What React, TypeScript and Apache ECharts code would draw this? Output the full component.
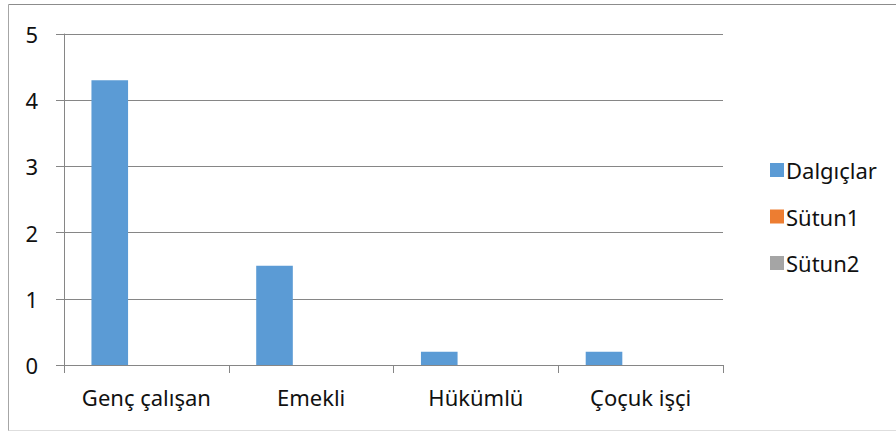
import React, { useEffect, useRef } from "react";
import * as echarts from "echarts";

const categories = ["Genç çalışan", "Emekli", "Hükümlü", "Çoçuk işçi"];
const dalgiclar = [4.3, 1.5, 0.2, 0.2];
const sutun1 = [0, 0, 0, 0];
const sutun2 = [0, 0, 0, 0];
const seriesNames = ["Dalgıçlar", "Sütun1", "Sütun2"];
const colors = ["#5B9BD5", "#ED7D31", "#A5A5A5"];

const FONT = "'Noto Sans', 'Open Sans', sans-serif";

export default function App() {
  const ref = useRef<HTMLDivElement>(null);
  useEffect(() => {
    if (!ref.current) return;
    const chart = echarts.init(ref.current, null, { renderer: "svg" });
    chart.setOption({
      animation: false,
      backgroundColor: "#ffffff",
      textStyle: { fontFamily: FONT },
      grid: { left: 64, top: 34, width: 659, height: 331, containLabel: false },
      legend: {
        orient: "vertical",
        left: 765,
        top: 154,
        itemWidth: 14,
        itemHeight: 14,
        itemGap: 24.5,
        icon: "rect",
        textStyle: { fontSize: 22, color: "#111", fontFamily: FONT, padding: [0, 0, 0, -3] },
        data: seriesNames,
      },
      xAxis: {
        type: "category",
        data: categories,
        axisLine: { lineStyle: { color: "#868686", width: 1 } },
        axisTick: { show: true, interval: 0, alignWithLabel: false, length: 8, lineStyle: { color: "#868686" } },
        axisLabel: { interval: 0, fontSize: 22, color: "#111", margin: 21, fontFamily: FONT },
        splitLine: { show: false },
      },
      yAxis: {
        type: "value",
        min: 0,
        max: 5,
        interval: 1,
        axisLine: { show: true, lineStyle: { color: "#868686", width: 1 } },
        axisTick: { show: true, length: 8, lineStyle: { color: "#868686" } },
        axisLabel: { fontSize: 22, color: "#111", margin: 26, fontFamily: FONT },
        splitLine: { show: true, lineStyle: { color: "#868686", width: 1 } },
      },
      series: [
        { name: seriesNames[0], type: "bar", data: dalgiclar, itemStyle: { color: colors[0] }, barGap: "0%", barCategoryGap: "33.33%" },
        { name: seriesNames[1], type: "bar", data: sutun1, itemStyle: { color: colors[1] }, barGap: "0%", barCategoryGap: "33.33%" },
        { name: seriesNames[2], type: "bar", data: sutun2, itemStyle: { color: colors[2] }, barGap: "0%", barCategoryGap: "33.33%" },
      ],
      graphic: [
        { type: "line", shape: { x1: 8.5, y1: 4.5, x2: 896, y2: 4.5 }, style: { stroke: "#8c8c8c", lineWidth: 1 }, silent: true },
        { type: "line", shape: { x1: 8.5, y1: 4.5, x2: 8.5, y2: 431 }, style: { stroke: "#a6a6a6", lineWidth: 1 }, silent: true },
        { type: "line", shape: { x1: 8.5, y1: 430.5, x2: 896, y2: 430.5 }, style: { stroke: "#dedede", lineWidth: 1 }, silent: true },
      ],
    });
    return () => chart.dispose();
  }, []);
  return <div ref={ref} style={{ position: "absolute", left: 0, top: 0, width: 896, height: 432 }} />;
}
